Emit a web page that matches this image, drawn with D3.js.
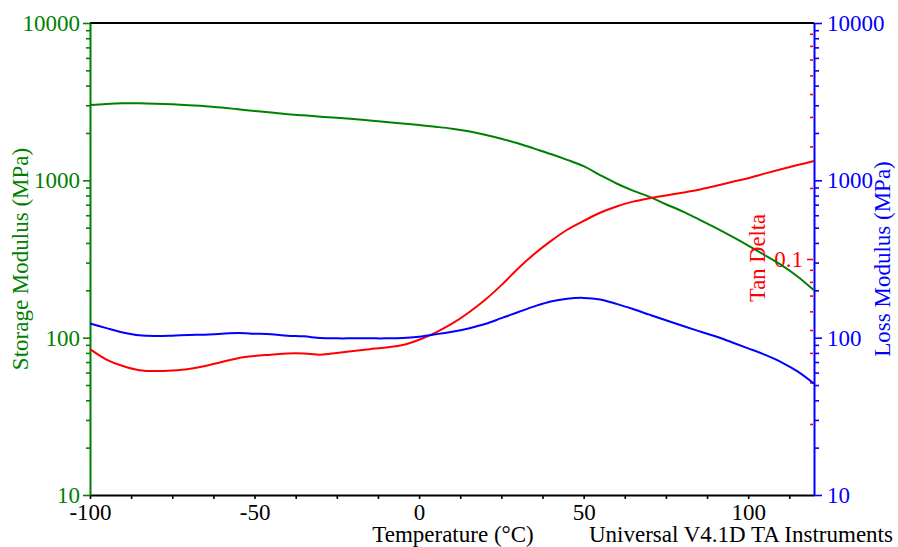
<!DOCTYPE html>
<html>
<head>
<meta charset="utf-8">
<script src="https://cdn.jsdelivr.net/npm/d3@7"></script>
<style>
  body { margin: 0; background: #fff; }
  svg text { font-family: 'Liberation Serif', 'Times New Roman', serif; }
</style>
</head>
<body>
<svg id="chart"></svg>
<script>
var svgWidth = 898;
var svgHeight = 547;

// temperature (°C), every 5 degrees
var temperature = [-100, -95, -90, -85, -80, -75, -70, -65, -60, -55, -50, -45, -40, -35, -30, -25, -20, -15, -10, -5,
                   0, 5, 10, 15, 20, 25, 30, 35, 40, 45, 50, 55, 60, 65, 70, 75, 80, 85, 90, 95, 100, 105, 110, 115, 120];

// storage modulus E' (MPa) - left axis
var storageModulus = [3010, 3060, 3090, 3090, 3070, 3040, 3000, 2960, 2900, 2830, 2760, 2700, 2630, 2590, 2540, 2500, 2455, 2400, 2350, 2300,
                      2245, 2190, 2130, 2050, 1950, 1840, 1720, 1590, 1470, 1350, 1230, 1080, 955, 860, 785, 705, 635, 565, 500, 440, 385, 335, 290, 245, 200];

// loss modulus E'' (MPa) - right axis
var lossModulus = [123, 115, 108, 103.5, 102.5, 103, 104, 104.5, 106, 107, 106, 105, 103, 102, 99.5, 99, 99, 99, 99, 99.5,
                   101.5, 105, 109, 114.5, 122, 133, 145, 158, 170, 177, 179, 175, 164, 152, 140, 129, 119, 110, 102, 93.5, 85.5, 78, 70, 61, 51];

// tan delta - inner right scale
var tanDelta = [0.0415, 0.0375, 0.0352, 0.0338, 0.0335, 0.0337, 0.0342, 0.0352, 0.0366, 0.0380, 0.0388, 0.0393, 0.0398, 0.0398, 0.0393, 0.0400, 0.0408, 0.0415, 0.0422, 0.0432,
                0.0455, 0.0488, 0.0532, 0.0592, 0.0670, 0.0775, 0.0910, 0.1050, 0.1190, 0.1330, 0.1450, 0.1570, 0.1670, 0.1750, 0.1810, 0.1860, 0.1910, 0.1965, 0.2040, 0.2120, 0.2200, 0.2300, 0.2400, 0.2500, 0.2600];

var xTicks = d3.range(-100, 120, 12.5);
var xLabels = [-100, -50, 0, 50, 100];
var modulusLabels = [10, 100, 1000, 10000];
var tanLabels = [0.1];

// plot box (window.top is reserved, so no "top" here)
var plotLeft = 90, plotRight = 814, plotTop = 23, plotBottom = 495;
var fontSize = 23;

var svg = d3.select('#chart').attr('width', svgWidth).attr('height', svgHeight);

var xScale = d3.scaleLinear().domain([-100, 120]).range([plotLeft, plotRight]);
var yLeft = d3.scaleLog().domain([10, 10000]).range([plotBottom, plotTop]);
var yRight = d3.scaleLog().domain([10, 10000]).range([plotBottom, plotTop]);
var yTan = d3.scaleLog().domain([0.01, 1]).range([plotBottom, plotTop]);

// minor log ticks 2..9 per decade
var minorTicks = function(scale){
    var d = scale.domain();
    var out = [];
    for (var e = Math.floor(Math.log10(d[0])); e < Math.ceil(Math.log10(d[1])); e++){
        for (var k = 2; k <= 9; k++){
            var v = k * Math.pow(10, e);
            if (v > d[0] && v < d[1]) out.push(v);
        }
    }
    return out;
};

var styleAxis = function(g, color, showDomain){
    g.selectAll('.tick line').attr('stroke', color).attr('stroke-width', 1.6);
    g.selectAll('.tick text').attr('fill', color).style('font-size', fontSize + 'px');
    if (showDomain) g.select('.domain').attr('stroke', color).attr('stroke-width', 2);
    else g.select('.domain').remove();
};

// top border
svg.append('line')
    .attr('x1', plotLeft).attr('x2', plotRight).attr('y1', plotTop).attr('y2', plotTop)
    .attr('stroke', '#000').attr('stroke-width', 2);

// bottom axis
var xAxis = d3.axisBottom(xScale).tickValues(xTicks).tickSize(4).tickSizeOuter(0)
    .tickPadding(5)
    .tickFormat(function(d){ return xLabels.indexOf(d) >= 0 ? d : ''; });
svg.append('g').attr('class', 'xAxis').attr('transform', 'translate(0,' + plotBottom + ')')
    .call(xAxis)
    .call(function(g){ styleAxis(g, '#000', true); });

// left axis (storage modulus)
svg.append('g').attr('transform', 'translate(' + plotLeft + ',0)')
    .call(d3.axisLeft(yLeft).tickValues(minorTicks(yLeft)).tickSize(4).tickSizeOuter(0).tickFormat(''))
    .call(function(g){ styleAxis(g, '#008000', false); });
svg.append('g').attr('transform', 'translate(' + plotLeft + ',0)')
    .call(d3.axisLeft(yLeft).tickValues(modulusLabels).tickSize(7).tickSizeOuter(0).tickPadding(3).tickFormat(d3.format('d')))
    .call(function(g){ styleAxis(g, '#008000', true); });

// right axis (loss modulus)
svg.append('g').attr('transform', 'translate(' + plotRight + ',0)')
    .call(d3.axisRight(yRight).tickValues(minorTicks(yRight)).tickSize(5).tickSizeOuter(0).tickFormat(''))
    .call(function(g){ styleAxis(g, '#0000ff', false); });
svg.append('g').attr('transform', 'translate(' + plotRight + ',0)')
    .call(d3.axisRight(yRight).tickValues(modulusLabels).tickSize(8).tickSizeOuter(0).tickPadding(5).tickFormat(d3.format('d')))
    .call(function(g){ styleAxis(g, '#0000ff', true); });

// tan delta ticks, inside the right axis
svg.append('g').attr('transform', 'translate(' + (plotRight - 1) + ',0)')
    .call(d3.axisLeft(yTan).tickValues(minorTicks(yTan)).tickSize(3).tickSizeOuter(0).tickFormat(''))
    .call(function(g){ styleAxis(g, '#ff0000', false); });
svg.append('g').attr('transform', 'translate(' + (plotRight - 1) + ',0)')
    .call(d3.axisLeft(yTan).tickValues(tanLabels).tickSize(6).tickSizeOuter(0).tickPadding(4).tickFormat(d3.format('.1f')))
    .call(function(g){ styleAxis(g, '#ff0000', false); });

// curves
var series = [
    { values: storageModulus, scale: yLeft, color: '#008000' },
    { values: tanDelta, scale: yTan, color: '#ff0000' },
    { values: lossModulus, scale: yRight, color: '#0000ff' }
];
series.forEach(function(s){
    var line = d3.line()
        .x(function(d, i){ return xScale(temperature[i]); })
        .y(function(d){ return s.scale(d); })
        .curve(d3.curveCatmullRom.alpha(0.5));
    svg.append('path')
        .datum(s.values)
        .attr('d', line)
        .attr('fill', 'none')
        .attr('stroke', s.color)
        .attr('stroke-width', 2);
});

// axis titles
var midY = (plotTop + plotBottom) / 2;
svg.append('text')
    .attr('transform', 'translate(28,' + midY + ') rotate(-90)')
    .attr('text-anchor', 'middle').attr('fill', '#008000').style('font-size', fontSize + 'px')
    .text('Storage Modulus (MPa)');
svg.append('text')
    .attr('transform', 'translate(890,' + midY + ') rotate(-90)')
    .attr('text-anchor', 'middle').attr('fill', '#0000ff').style('font-size', fontSize + 'px')
    .text('Loss Modulus (MPa)');
svg.append('text')
    .attr('transform', 'translate(765,258) rotate(-90)')
    .attr('text-anchor', 'middle').attr('fill', '#ff0000').style('font-size', '22.5px')
    .text('Tan Delta');
svg.append('text')
    .attr('x', 453).attr('y', 542)
    .attr('text-anchor', 'middle').attr('fill', '#000').style('font-size', fontSize + 'px')
    .text('Temperature (°C)');
svg.append('text')
    .attr('x', 589).attr('y', 542)
    .attr('text-anchor', 'start').attr('fill', '#000').style('font-size', fontSize + 'px')
    .text('Universal V4.1D TA Instruments');
</script>
</body>
</html>
